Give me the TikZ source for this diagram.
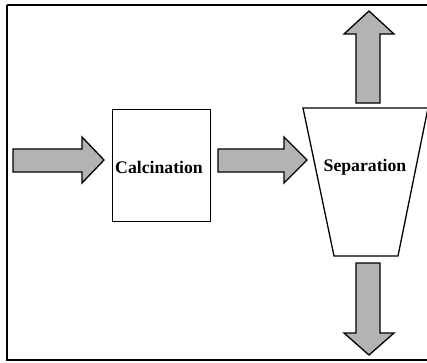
\documentclass[tikz,border=0pt]{standalone}
\usepackage{fontspec}
\setmainfont{Liberation Serif}
\begin{document}
\begin{tikzpicture}[x=1pt,y=-1pt,
  unitbox/.style={draw=black,line width=1.3pt,fill=white},
  blockarrow/.style={draw=black,line width=1.3pt,fill=arrowgray,line join=miter},
  lbl/.style={font=\fontsize{17.7}{20}\selectfont\bfseries,inner sep=0pt}]
\definecolor{arrowgray}{HTML}{B3B3B3}
\useasboundingbox (0,0) rectangle (427,362);
\begin{scope}
\clip (0,0) rectangle (427,362);
\draw[line width=2pt] (7,5) -- (440,5) (7,5) -- (7,360) -- (440,360);
% calcination box
\node[unitbox,minimum width=98pt,minimum height=112pt,inner sep=0pt,anchor=north west] (calc) at (112,109) {};
\node[lbl] (calctext) at (159,167) {Calcination};
% separation trapezoid
\draw[unitbox] (303,108) coordinate (septl) -- (428,108) coordinate (septr) -- (398,256) coordinate (sepbr) -- (334,256) coordinate (sepbl) -- cycle;
\node[lbl] (septext) at (365,167) {Separation};
% arrows
\draw[blockarrow] (13,149) -- (82,149) -- (82,137) -- (104,160) -- (82,183) -- (82,172) -- (13,172) -- cycle;
\draw[blockarrow] (218,149) -- (284,149) -- (284,137) -- (307,160) -- (284,183) -- (284,172) -- (218,172) -- cycle;
\draw[blockarrow] (356,103) -- (356,34) -- (344,34) -- (369,11) -- (394,34) -- (380,34) -- (380,103) -- cycle;
\draw[blockarrow] (356,263) -- (356,333) -- (344,333) -- (369,355) -- (394,333) -- (380,333) -- (380,263) -- cycle;
\end{scope}
\end{tikzpicture}
\end{document}
